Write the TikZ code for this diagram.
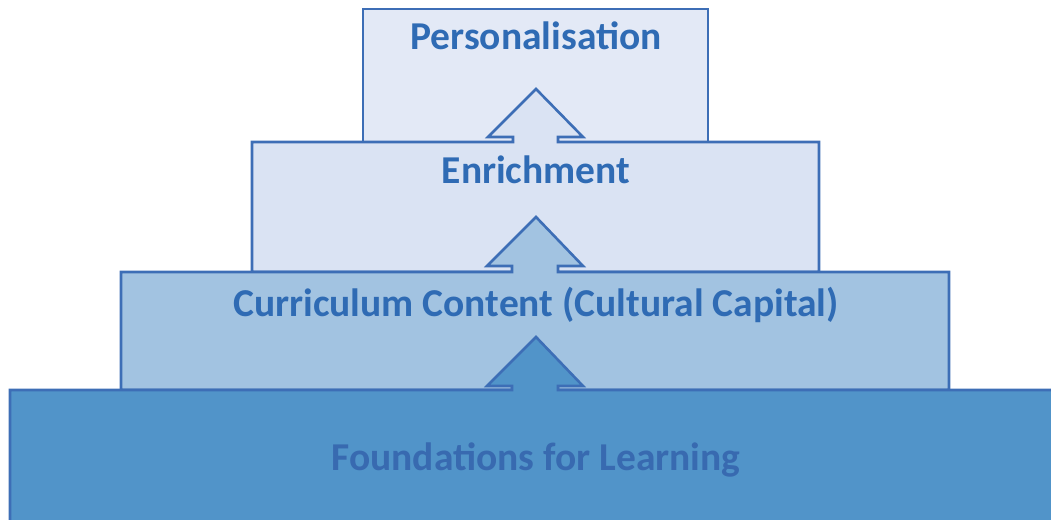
\documentclass[tikz,border=0pt]{standalone}
\usepackage{fontspec}
\setmainfont{Carlito}
\usepackage{xcolor}
\definecolor{edgeblue}{HTML}{3D6EB6}
\definecolor{textblue}{HTML}{2F6BB4}
\definecolor{darktext}{HTML}{386AB0}
\definecolor{tierone}{HTML}{5194C9}
\definecolor{tiertwo}{HTML}{A2C3E1}
\definecolor{tierthree}{HTML}{DAE3F3}
\definecolor{tierfour}{HTML}{E3E9F6}

\begin{document}
\begin{tikzpicture}[x=1pt,y=-1pt,
    tier/.style={fill=#1,draw=edgeblue,line width=2.6pt,line join=miter},
    tier label/.style={anchor=base,font=\fontsize{39.5}{42}\selectfont\bfseries,text=#1,inner sep=0pt}]
                \useasboundingbox (0,0) rectangle (1051,519);
                \clip (0,0) rectangle (1051,519);
                % top tier
                \draw[tier=tierfour] (363,9) rectangle (708,142);
                % enrichment, with its arrow
                \draw[tier=tierthree] (252,272) -- (252,142) -- (513,142) -- (513,137) -- (488,137) -- (536,89)
                    -- (583,137) -- (558,137) -- (558,142) -- (819,142) -- (819,272) -- cycle;
                % curriculum, with its arrow
                \draw[tier=tiertwo] (121,390) -- (121,272) -- (512,272) -- (512,266) -- (487,266) -- (536,217)
                    -- (583,266) -- (558,266) -- (558,272) -- (949,272) -- (949,390) -- cycle;
                % foundations, with its arrow
                \draw[tier=tierone] (10,540) -- (10,390) -- (512,390) -- (512,386) -- (487,386) -- (536,337)
                    -- (583,386) -- (558,386) -- (558,390) -- (1070,390) -- (1070,540) -- cycle;
                \node[tier label=textblue] (personal) at (536,50) {Personalisation};
                \node[tier label=textblue] (enrich) at (536,183) {Enrichment};
                \node[tier label=textblue] (content) at (536,316) {Curriculum Content (Cultural Capital)};
                \node[tier label=darktext] (found) at (536,470) {Foundations for Learning};
            \end{tikzpicture}
\end{document}
